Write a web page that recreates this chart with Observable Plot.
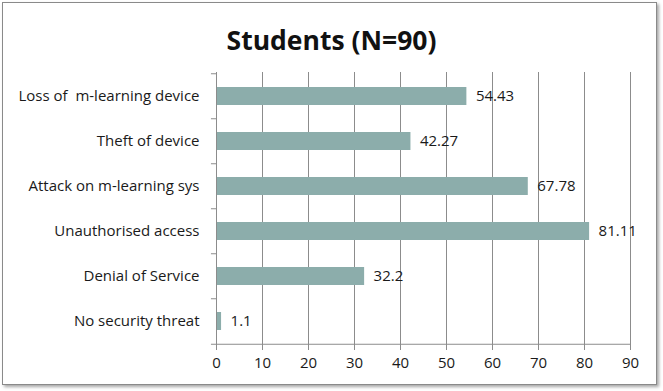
<!DOCTYPE html>
<html>
<head>
<meta charset="utf-8">
<script src="https://cdn.jsdelivr.net/npm/d3@7"></script>
<script src="https://cdn.jsdelivr.net/npm/@observablehq/plot@0.6"></script>
<style>
  html, body { margin: 0; padding: 0; background: #fff; }
  body { width: 663px; height: 391px; position: relative; overflow: hidden; font-family: "Open Sans", sans-serif; }
  #frame { position: absolute; left: 2px; top: 2px; width: 653px; height: 381px; border: 1px solid #8a8a8a; box-shadow: 2px 2px 3px rgba(0,0,0,0.35); background: #fff; }
  #title { position: absolute; left: 0; top: 22px; width: 663px; text-align: center; font-weight: bold; font-size: 26.5px; line-height: 36px; color: #111; }
  #chart { position: absolute; left: 0; top: 62px; }
</style>
</head>
<body>
<div id="frame"></div>
<div id="title">Students (N=90)</div>
<div id="chart"></div>
<script>
const categories = ["Loss of  m-learning device", "Theft of device", "Attack on m-learning sys", "Unauthorised access", "Denial of Service", "No security threat"];
const values = [54.43, 42.27, 67.78, 81.11, 32.2, 1.1];
const xTicks = [0, 10, 20, 30, 40, 50, 60, 70, 80, 90];

const data = categories.map((c, i) => ({category: c, value: values[i]}));

const W = 663, H = 320, mt = 10, mb = 37, ml = 216, mr = 33;
const step = (H - mt - mb) / categories.length;
const grid = "#8c8c8c";
const fs = 15;

const chart = Plot.plot({
  width: W, height: H,
  marginTop: mt, marginBottom: mb, marginLeft: ml, marginRight: mr,
  style: {fontFamily: "'Open Sans', sans-serif", fontSize: fs + "px", color: "#1a1a1a", background: "transparent"},
  x: {domain: [0, 90], ticks: xTicks, label: null},
  y: {domain: categories, paddingInner: 0.6, paddingOuter: 0.3, label: null},
  marks: [
    Plot.ruleX(xTicks.slice(1), {stroke: grid, strokeWidth: 1}),
    Plot.barX(data, {y: "category", x: "value", fill: "#8cadab"}),
    Plot.ruleX([0], {stroke: grid, strokeWidth: 1}),
    Plot.ruleY(categories, {y: d => d, x1: -1.1, x2: 0, dy: -step / 2, stroke: grid, clip: false}),
    Plot.ruleY([categories[categories.length - 1]], {y: d => d, x1: -1.1, x2: 90, dy: step / 2, stroke: grid}),
    Plot.text(data, {y: "category", x: "value", text: d => String(d.value), textAnchor: "start", dx: 9, fill: "#1a1a1a", fontSize: fs}),
    Plot.axisY({tickSize: 0, tickPadding: 17, fontSize: fs, fill: "#1a1a1a"}),
    Plot.axisX({ticks: xTicks, tickSize: 5, tickPadding: 7, stroke: grid, fontSize: fs, fill: "#1a1a1a", tickFormat: d => String(d), label: null})
  ]
});
document.getElementById("chart").appendChild(chart);
</script>
</body>
</html>
